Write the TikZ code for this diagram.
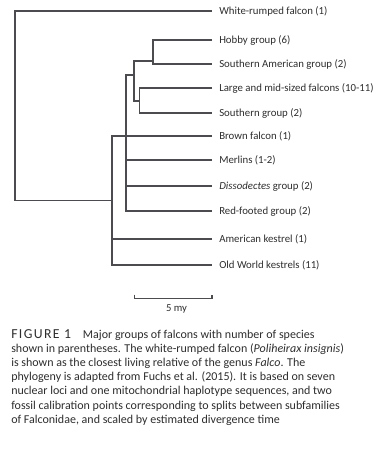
\documentclass[tikz,border=0pt]{standalone}
\usepackage{fontspec}
\setmainfont{Carlito}
\usetikzlibrary{positioning}
\definecolor{treegray}{RGB}{75,75,80}
\definecolor{textgray}{RGB}{45,45,45}
\tikzset{
  branch/.style={line width=1.05pt, color=treegray},
  leaf/.style={anchor=west, font=\fontsize{8.1}{9}\selectfont, text=textgray, inner sep=0pt},
  scalelab/.style={font=\fontsize{8}{9}\selectfont, text=textgray, inner sep=0pt},
  caption/.style={anchor=north west, align=left, inner sep=0pt, text=textgray,
    font=\fontsize{9}{10.65}\selectfont}
}

\begin{document}
\begin{tikzpicture}[x=0.75pt,y=-0.75pt]
  \useasboundingbox (0,0) rectangle (384,461);
  % tips of the branches
  \foreach \name/\yy in {wr/11, hob/40, sam/64, lmf/88, sth/113, brn/136,
      mer/160, dis/186, red/211, amk/239, owk/265}
    \coordinate (\name) at (212,\yy);
  % inner nodes
  \coordinate (hobn) at (153,61);
  \coordinate (lgn) at (139.3,101);
  \coordinate (hm) at (134,75);
  \coordinate (core) at (126,75);
  \coordinate (falco) at (112,200.7);
  \coordinate (root) at (15,200.7);

  \draw[branch] (hob) -| (hobn) |- (sam);
  \draw[branch] (lmf) -| (lgn) |- (sth);
  \draw[branch] (hobn) -| (hm) |- (lgn);
  \draw[branch] (hm) -- (core) |- (red);
  \draw[branch] (mer) -- (mer -| core);
  \draw[branch] (dis) -- (dis -| core);
  \draw[branch] (brn) -| (falco) |- (owk);
  \draw[branch] (amk) -- (amk -| falco);
  \draw[branch] (falco) -- (root) |- (wr);

  % labels
  \node[leaf, right=5.25pt of wr] (wrlab) {White-rumped falcon (1)};
  \node[leaf, right=5.25pt of hob] (hoblab) {Hobby group (6)};
  \node[leaf, right=5.25pt of sam] (samlab) {Southern American group (2)};
  \node[leaf, right=5.25pt of lmf] (lmflab) {Large and mid-sized falcons (10-11)};
  \node[leaf, right=5.25pt of sth] (sthlab) {Southern group (2)};
  \node[leaf, right=5.25pt of brn] (brnlab) {Brown falcon (1)};
  \node[leaf, right=5.25pt of mer] (merlab) {Merlins (1-2)};
  \node[leaf, right=5.25pt of dis] (dislab) {\textit{Dissodectes} group (2)};
  \node[leaf, right=5.25pt of red] (redlab) {Red-footed group (2)};
  \node[leaf, right=5.25pt of amk] (amklab) {American kestrel (1)};
  \node[leaf, right=5.25pt of owk] (owklab) {Old World kestrels (11)};

  % scale bar
  \coordinate (sbl) at (134.3,298.7);
  \coordinate (sbr) at (212,298.7);
  \draw[branch] ([yshift=3pt]sbl) -- (sbl) -- (sbr) -- ([yshift=3pt]sbr);
  \node[scalelab] (sblab) at (176.5,309.3) {5 my};

  % caption
  \node[caption] (cap) at (11,329) {%
    {\fontsize{10.3}{10.65}\selectfont\addfontfeatures{LetterSpace=10}FIGURE 1}\hspace{9pt}Major groups of falcons with number of species\\
    shown in parentheses. The white-rumped falcon (\textit{Poliheirax insignis})\\
    is shown as the closest living relative of the genus \textit{Falco}. The\\
    phylogeny is adapted from Fuchs et al. (2015). It is based on seven\\
    nuclear loci and one mitochondrial haplotype sequences, and two\\
    fossil calibration points corresponding to splits between subfamilies\\
    of Falconidae, and scaled by estimated divergence time};
\end{tikzpicture}
\end{document}
